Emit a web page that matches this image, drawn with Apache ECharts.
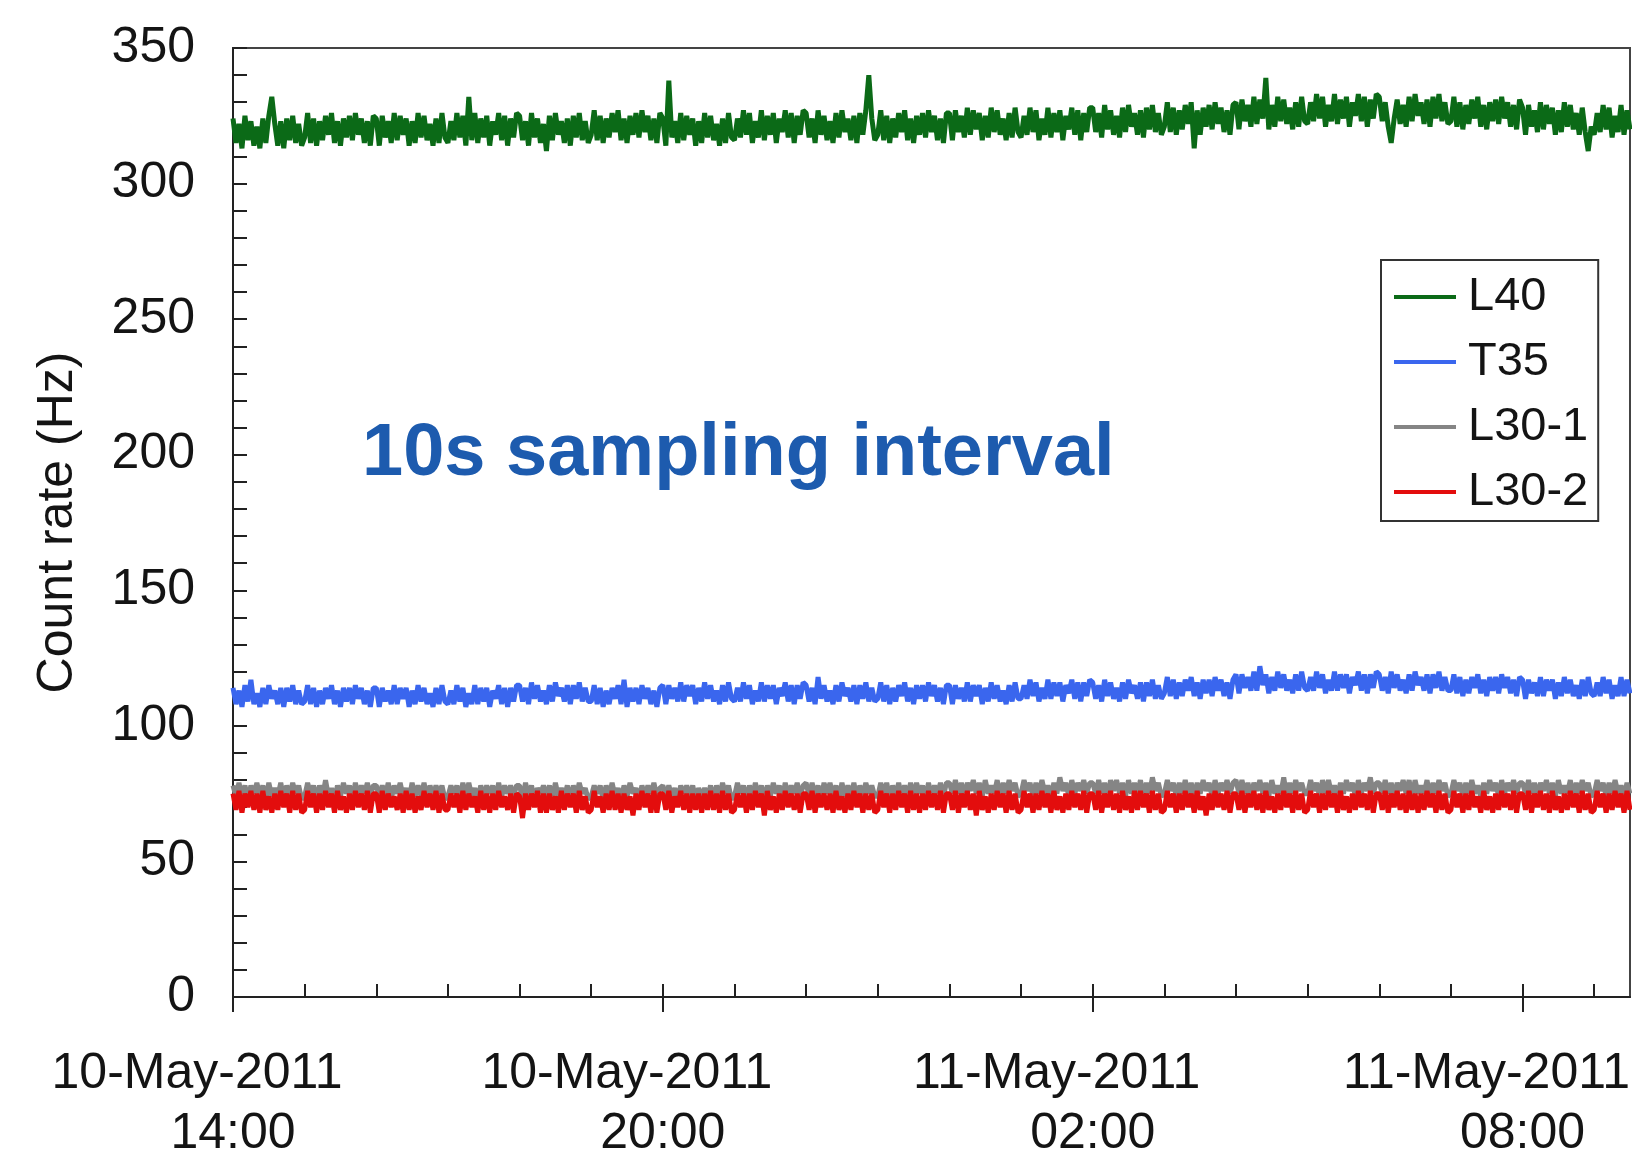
<!DOCTYPE html>
<html>
<head>
<meta charset="utf-8">
<title>Count rate</title>
<script src="https://cdn.jsdelivr.net/npm/echarts@6/dist/echarts.min.js"></script>
<style>
  html, body { margin: 0; padding: 0; background: #ffffff; }
  #chart { width: 1632px; height: 1150px; }
</style>
</head>
<body>
<div id="chart"></div>
<script>
// Count rates, one value every 2.5 minutes from 10-May-2011 14:00 to 11-May-2011 09:30
// (24 values per hour, one row per hour)
const stepHours = 2.5 / 60;
const seriesNames = ['L40', 'T35', 'L30-1', 'L30-2'];
const seriesColors = ['#0b6a17', '#3a66ee', '#858585', '#e30d0d'];

const L40 = [
  324,315,322,313,325,316,323,314,321,313,324,315,325,332,322,314,323,313,324,316,325,315,322,314,
  317,326,315,324,314,323,316,325,318,326,315,323,314,324,317,325,316,326,318,324,315,323,314,325,
  324,314,325,317,323,315,326,316,325,318,324,314,323,315,326,317,325,316,322,314,324,315,326,317,
  315,323,316,326,317,325,314,332,316,326,315,324,317,325,314,323,318,326,316,325,314,324,317,326,
  325,316,323,314,326,317,324,315,322,312,325,316,326,318,323,315,324,314,325,317,326,316,323,315,
  318,327,316,325,315,324,317,326,319,327,316,324,315,325,318,326,317,327,319,325,316,324,315,326,
  324,314,338,317,323,315,326,316,325,318,324,314,323,315,326,317,325,316,322,314,324,315,326,317,
  316,324,317,327,318,326,315,323,317,327,316,325,318,326,315,324,319,327,317,326,315,325,318,327,
  326,317,324,315,327,318,325,316,323,315,326,317,327,319,324,316,325,315,326,318,327,340,324,316,
  318,327,316,325,315,324,317,326,319,327,316,324,315,325,318,326,317,327,319,325,316,324,315,326,
  326,316,327,319,325,317,328,318,327,320,326,316,325,317,328,319,327,318,324,316,326,317,328,319,
  317,325,318,328,319,327,316,324,318,328,317,326,319,327,316,325,320,328,318,327,316,326,319,328,
  328,319,326,317,329,320,327,318,325,317,328,319,329,321,326,318,327,317,328,320,329,319,326,318,
  321,330,319,328,318,327,320,329,322,330,313,327,318,328,321,329,320,330,322,328,319,327,318,329,
  330,320,331,323,329,321,332,322,331,324,339,320,329,321,332,323,331,322,328,320,330,321,332,323,
  322,330,323,333,324,332,321,329,323,333,322,331,324,332,321,330,325,333,323,332,321,331,324,333,
  332,323,330,321,315,324,331,322,329,321,332,323,333,325,330,322,331,321,332,324,333,323,330,322,
  323,332,321,330,320,329,322,331,324,332,321,329,320,330,323,331,322,332,324,330,321,329,320,331,
  328,318,329,321,327,319,330,320,329,322,328,318,327,319,330,321,329,320,326,318,328,319,312,321,
  318,326,319,329,320,328,317,325,319,329,318,327,320
];

const T35 = [
  114,108,113,107,115,109,117,108,112,107,114,108,115,110,113,108,114,107,114,109,115,108,113,108,
  109,115,108,114,107,113,108,114,110,115,108,113,107,114,109,114,108,115,110,114,108,113,107,114,
  114,107,114,109,113,108,115,108,114,110,114,107,113,108,115,109,114,108,112,107,114,108,115,109,
  108,113,108,115,109,114,107,112,108,115,108,114,109,114,107,113,110,115,108,114,107,114,109,115,
  115,109,114,108,116,110,115,109,113,108,115,109,116,111,114,109,115,108,115,110,116,109,114,109,
  109,115,108,114,107,113,108,114,110,115,108,117,107,114,109,114,108,115,110,114,108,113,107,114,
  115,108,115,110,114,109,116,109,115,111,115,108,114,109,116,110,115,109,113,108,115,109,116,110,
  109,114,109,116,110,115,108,113,109,116,109,115,110,115,108,114,111,116,109,115,108,115,110,116,
  115,109,114,108,118,110,115,109,113,108,115,109,116,111,114,109,115,108,115,110,116,109,114,109,
  110,116,109,115,108,114,109,115,111,116,109,114,108,115,110,115,109,116,111,115,109,114,108,115,
  115,108,115,110,114,109,116,109,115,111,115,108,114,109,116,110,115,109,113,108,115,109,116,110,
  110,115,110,117,111,116,109,114,110,117,110,116,111,116,109,115,112,117,110,116,109,116,111,117,
  116,110,115,109,117,111,116,110,114,109,116,110,117,112,115,110,116,109,116,111,117,110,115,110,
  112,118,111,117,110,116,111,117,113,118,111,116,110,117,112,117,111,118,113,117,111,116,110,117,
  119,112,119,114,118,113,120,113,122,115,119,112,118,113,120,114,119,113,117,112,119,113,120,114,
  113,118,113,120,114,119,112,117,113,120,113,119,114,119,112,118,115,120,113,119,112,119,114,120,
  119,113,118,112,120,114,119,113,117,112,119,113,120,115,118,113,119,112,119,114,120,113,118,113,
  113,119,112,118,111,117,112,118,114,119,112,117,111,118,113,118,112,119,114,118,112,117,111,118,
  117,110,117,112,116,111,118,111,117,113,117,110,116,111,118,112,117,111,115,110,117,111,118,112,
  111,116,111,118,112,117,110,115,111,118,111,117,112
];

const L30_1 = [
  78,74,79,74,78,73,78,75,79,74,78,73,79,74,77,74,79,73,78,74,79,75,78,73,
  74,79,75,78,73,78,74,80,74,77,73,78,74,79,75,78,73,79,74,78,75,79,74,78,
  78,74,78,74,79,73,78,75,79,74,77,73,79,74,78,74,79,73,78,74,78,75,78,73,
  74,78,75,78,73,79,74,79,74,77,73,78,74,78,75,78,73,79,74,78,75,78,74,78,
  78,73,79,74,78,73,77,75,78,74,78,73,79,74,77,74,78,73,78,74,79,75,77,73,
  74,78,75,78,73,78,74,79,74,77,73,78,74,79,75,77,73,78,74,78,75,79,74,77,
  78,74,78,74,77,73,78,75,78,74,78,73,77,74,77,74,78,73,78,74,79,75,78,73,
  74,79,75,78,73,78,74,79,74,78,73,78,74,79,75,78,73,79,74,78,75,79,74,78,
  79,74,79,74,78,73,79,75,79,74,78,73,79,74,78,74,79,73,78,74,79,75,78,74,
  74,79,75,79,73,78,74,79,74,78,74,79,74,79,75,78,73,79,74,78,75,79,74,79,
  79,75,80,75,79,74,79,76,80,75,79,74,80,75,78,75,80,74,79,75,80,76,79,74,
  75,80,76,79,74,79,75,80,75,78,74,79,75,81,76,79,74,80,75,79,76,80,75,79,
  79,75,80,75,79,74,80,76,80,75,79,74,80,75,79,75,80,74,79,75,81,76,79,74,
  75,80,76,79,74,79,75,80,75,79,74,79,75,80,76,79,74,80,75,79,76,80,75,79,
  80,75,80,75,79,74,79,76,80,75,79,74,80,75,78,75,81,74,79,75,80,76,79,75,
  75,80,76,79,74,80,75,80,75,78,74,79,75,80,76,79,74,80,75,79,76,81,75,79,
  79,75,80,75,79,74,79,76,80,75,80,74,80,75,78,75,80,74,79,75,80,76,79,74,
  75,80,76,79,74,79,75,80,75,78,74,79,75,80,76,79,74,80,75,79,76,80,75,79,
  79,75,80,75,79,74,79,76,80,75,79,74,80,75,78,75,80,74,79,75,80,76,79,74,
  75,80,76,79,74,79,75,80,75,78,74,79,75
];

const L30_2 = [
  75,69,76,68,75,70,76,69,75,68,76,69,74,68,75,69,76,70,75,68,76,69,75,68,
  69,76,70,75,68,75,69,76,70,75,68,76,69,74,68,75,69,76,70,75,69,76,68,75,
  75,68,76,69,75,70,74,69,75,68,76,69,75,68,74,69,76,70,75,69,76,68,75,69,
  69,75,70,75,68,76,69,75,70,74,68,76,69,75,68,75,69,76,70,74,69,75,68,75,
  74,66,75,69,75,70,76,68,75,68,75,69,74,68,76,69,75,70,75,68,76,69,74,68,
  69,76,70,74,68,75,69,76,69,75,68,75,69,74,67,75,69,76,70,75,68,76,68,75,
  75,69,76,68,74,70,76,69,75,68,75,69,75,68,75,69,76,69,75,68,76,69,75,68,
  69,75,70,75,68,75,69,76,70,75,67,76,69,74,68,75,69,76,70,75,69,75,68,75,
  75,69,76,68,75,70,75,69,75,68,76,69,74,68,75,69,76,70,75,68,75,69,75,68,
  69,76,70,75,68,75,69,76,70,75,68,76,69,75,68,75,69,76,70,75,69,76,68,75,
  75,69,76,68,75,70,76,69,75,67,76,69,74,68,75,69,76,70,75,68,76,69,75,68,
  69,76,70,75,68,75,69,76,70,75,68,76,69,74,68,75,69,76,70,75,69,76,68,75,
  75,69,76,68,75,70,76,69,75,68,76,69,74,68,76,69,76,70,75,68,76,69,75,68,
  69,76,70,75,68,75,69,76,70,75,68,76,69,74,67,75,69,76,70,75,69,76,68,75,
  75,69,76,68,75,70,76,69,75,68,76,69,74,68,75,69,76,70,75,68,76,69,75,68,
  69,76,70,75,68,75,69,76,70,75,68,76,69,74,68,75,69,76,70,75,69,76,68,75,
  75,69,76,68,75,70,76,69,75,68,76,69,75,68,75,69,76,70,75,68,76,69,75,68,
  69,76,70,75,68,75,69,76,70,74,68,76,69,74,68,75,69,76,70,75,69,76,68,75,
  75,69,76,68,75,70,76,69,75,68,76,69,74,68,75,69,76,70,75,68,76,69,75,68,
  69,76,70,75,68,75,69,76,70,75,68,76,69
];

// x axis: hours after 10-May-2011 14:00
const xMaxHours = 19.5;
const majorTickHours = [0, 6, 12, 18];
const tickDates = ['10-May-2011', '10-May-2011', '11-May-2011', '11-May-2011'];
const tickTimes = ['14:00', '20:00', '02:00', '08:00'];
const hourTicks = Array.from({ length: 20 }, (_, h) => h);

const yTicks = [0, 50, 100, 150, 200, 250, 300, 350];

const FONT = '"Liberation Sans", Arial, Helvetica, sans-serif';
const allValues = [L40, T35, L30_1, L30_2];

const chart = echarts.init(document.getElementById('chart'), null, { renderer: 'canvas' });

chart.setOption({
  animation: false,
  backgroundColor: '#ffffff',
  grid: {
    left: 233, right: 2, top: 48, bottom: 153,
    outerBoundsMode: 'none', containLabel: false,
    show: true, borderColor: '#444', borderWidth: 2, backgroundColor: 'transparent'
  },
  xAxis: [
    {
      type: 'value', min: 0, max: xMaxHours, position: 'bottom',
      splitLine: { show: false },
      axisLine: { show: true, onZero: false, lineStyle: { color: '#222', width: 2 } },
      axisTick: { show: true, inside: false, length: 15, customValues: majorTickHours,
                  lineStyle: { color: '#222', width: 2 } },
      axisLabel: {
        show: true, margin: 47, customValues: majorTickHours, hideOverlap: false,
        formatter: (v) => {
          const k = majorTickHours.indexOf(Math.round(v));
          return k < 0 ? '' : '{d|' + tickDates[k] + '}\n{t|' + tickTimes[k] + '}';
        },
        rich: {
          d: { fontFamily: FONT, fontSize: 50, color: '#141414', lineHeight: 60, padding: [0, 72, 0, 0] },
          t: { fontFamily: FONT, fontSize: 50, color: '#141414', lineHeight: 60 }
        }
      }
    },
    {
      type: 'value', min: 0, max: xMaxHours, position: 'bottom',
      splitLine: { show: false },
      axisLine: { show: false, onZero: false },
      axisTick: { show: true, inside: true, length: 13, customValues: hourTicks,
                  lineStyle: { color: '#222', width: 2 } },
      axisLabel: { show: false }
    }
  ],
  yAxis: {
    type: 'value', min: 0, max: 350, interval: 50,
    name: 'Count rate (Hz)', nameLocation: 'middle', nameRotate: 90, nameGap: 150,
    nameTextStyle: { fontFamily: FONT, fontSize: 50, color: '#141414' },
    splitLine: { show: false },
    axisLine: { show: true, lineStyle: { color: '#222', width: 2 } },
    axisTick: { show: true, inside: true, length: 14, lineStyle: { color: '#222', width: 2 } },
    minorTick: { show: true, splitNumber: 5, length: 14, lineStyle: { color: '#222', width: 2 } },
    axisLabel: {
      margin: 38, fontFamily: FONT, fontSize: 50, color: '#141414',
      formatter: (v) => (yTicks.indexOf(v) >= 0 ? String(v) : '')
    }
  },
  legend: {
    orient: 'vertical', left: 1381, top: 260,
    data: seriesNames,
    backgroundColor: '#ffffff',
    borderColor: '#333', borderWidth: 2, borderRadius: 0,
    padding: [11, 10, 3, 13],
    itemWidth: 62, itemHeight: 4, itemGap: 13,
    icon: 'rect',
    textStyle: { fontFamily: FONT, fontSize: 47, color: '#141414', lineHeight: 52, padding: [0, 0, 0, 7] }
  },
  graphic: [{
    type: 'text', x: 362, y: 455, z: 10,
    style: {
      text: '10s sampling interval',
      font: 'bold 74px "Liberation Sans", Arial, sans-serif',
      fill: '#1d5bae', verticalAlign: 'middle', align: 'left'
    }
  }],
  series: seriesNames.map((name, s) => ({
    name: name,
    type: 'line',
    xAxisIndex: 0,
    showSymbol: false,
    symbol: 'none',
    sampling: false,
    color: seriesColors[s],
    lineStyle: { color: seriesColors[s], width: 5, join: 'bevel' },
    itemStyle: { color: seriesColors[s] },
    z: 2 + s,
    data: allValues[s].map((v, i) => [i * stepHours, v])
  }))
});
</script>
</body>
</html>
